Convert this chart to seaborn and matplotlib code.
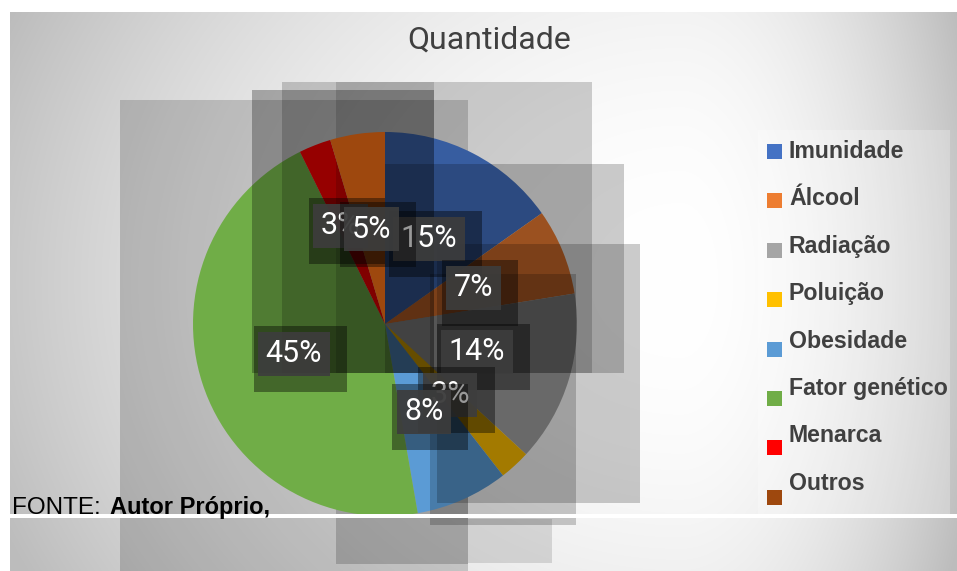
import numpy as np
import matplotlib
matplotlib.use("Agg")
import matplotlib.pyplot as plt
from matplotlib.patches import Rectangle
import seaborn as sns

# data (share of answers, %)
categorias = ["Imunidade", "Álcool", "Radiação", "Poluição",
              "Obesidade", "Fator genético", "Menarca", "Outros"]
valores = [15.2, 7.25, 14.4, 2.6, 7.8, 45.4, 2.7, 4.6]
cores = ["#4472C4", "#ED7D31", "#A5A5A5", "#FFC000",
         "#5B9BD5", "#70AD47", "#FF0000", "#9E480E"]
titulo = "Quantidade"
fonte_rotulo = "FONTE:"
fonte_texto = "Autor Próprio,"

sns.set_theme(style="white")
plt.rcParams["font.family"] = ["Roboto", "DejaVu Sans"]

W, H = 957, 571
fig = plt.figure(figsize=(W / 100, H / 100), dpi=100)
ax = fig.add_axes([0, 0, 1, 1])


def fy(y):
    # image rows (top down) -> data y (bottom up)
    return H - y


# background: white margin + soft radial gray gradient
yy, xx = np.mgrid[0:H, 0:W]
dx = xx - 680.0
dy = yy - 280.0
rx = np.where(dx > 0, 290.0, 700.0)
t = np.clip(np.sqrt((dx / rx) ** 2 + (dy / 600.0) ** 2), 0, 1.05) ** 2
bg = np.clip(255 - 60 * t, 185, 255) / 255.0
bg[:12, :] = 1.0
bg[:, :10] = 1.0
ax.imshow(np.dstack([bg, bg, bg]), extent=(0, W, 0, H), origin="upper",
          aspect="auto", zorder=0, interpolation="bilinear")

# rendering artefact boxes (gray translucent layers)
atras = [(120, 468, 100, 571, 0.17), (336, 468, 300, 564, 0.18),
         (468, 552, 519, 563, 0.12)]
frente = [(252, 434, 90, 373, 0.28), (282, 592, 82, 373, 0.18),
          (336, 434, 82, 373, 0.14), (385, 624, 164, 373, 0.20),
          (437, 640, 244, 503, 0.20), (430, 576, 274, 525, 0.20)]
for x0, x1, y0, y1, a in atras:
    ax.add_patch(Rectangle((x0, fy(y1)), x1 - x0, y1 - y0, color="black",
                           alpha=a, lw=0, zorder=1))
for x0, x1, y0, y1, a in frente:
    ax.add_patch(Rectangle((x0, fy(y1)), x1 - x0, y1 - y0, color="black",
                           alpha=a, lw=0, zorder=3))

# pie
cx, cy = 385, fy(324)
palette = sns.color_palette(cores)
wedges, _, autotexts = ax.pie(
    valores, colors=palette, startangle=90, counterclock=False,
    center=(cx, cy), radius=192, autopct="%1.0f%%", pctdistance=0.5,
    wedgeprops=dict(linewidth=0), labeldistance=None,
    textprops=dict(color="white", fontsize=22, family=["Roboto", "DejaVu Sans"]))
for i, w in enumerate(wedges):
    w.set_zorder(3.5 if categorias[i] == "Outros" else 2)

for i, txt in enumerate(autotexts):
    x, y = txt.get_position()
    if categorias[i] == "Menarca":
        # label pushed outward a little, as in the original
        x, y = cx + (x - cx) * 1.1 - 6, cy + (y - cy) * 1.1
        txt.set_position((x, y))
    z = 5 + i * 0.1
    ax.text(x + 6.5, y - 5.5, txt.get_text(), color="none",
            fontsize=22, ha="center", va="center", zorder=z,
            bbox=dict(boxstyle="square,pad=0.6", fc="black",
                      ec="none", alpha=0.4))
    txt.set_zorder(z + 0.05)
    txt.set_bbox(dict(boxstyle="square,pad=0.25", fc="#3d3d3d", ec="none",
                      alpha=0.92))

ax.set_xlim(0, W)
ax.set_ylim(0, H)
ax.set_aspect("auto")
ax.axis("off")

# title
ax.text(489, fy(49), titulo, ha="center", va="baseline", fontsize=23,
        color="#404040", zorder=6)

# legend panel and entries
ax.add_patch(Rectangle((758, fy(514)), 192, 384, color="white", alpha=0.25,
                       lw=0, zorder=1))
for i, (cat, cor) in enumerate(zip(categorias, palette)):
    top = 144 + i * 49.4
    ax.add_patch(Rectangle((767, fy(top + 15)), 15, 15, color=cor, lw=0,
                           zorder=6))
    ax.text(789, fy(158 + i * 47.4), cat, ha="left", va="baseline",
            fontsize=16.7, fontweight="bold", color="#404040",
            family=["Liberation Sans", "DejaVu Sans"], zorder=6)

# white separator line and source note
ax.add_patch(Rectangle((10, fy(518)), W - 10, 4, color="white", lw=0, zorder=7))
ax.text(12, fy(514), fonte_rotulo, ha="left", va="baseline", fontsize=17.5,
        color="black", family=["Liberation Sans", "DejaVu Sans"], zorder=8)
ax.text(110, fy(514), fonte_texto, ha="left", va="baseline", fontsize=17,
        fontweight="bold", color="black",
        family=["Liberation Sans", "DejaVu Sans"], zorder=8)

fig.savefig("out.png", dpi=100)
